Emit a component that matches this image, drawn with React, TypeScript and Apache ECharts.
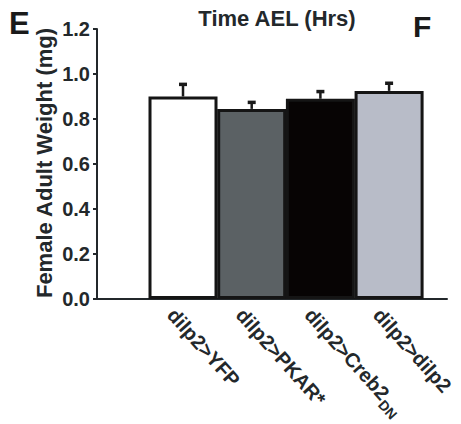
import React, { useEffect, useRef } from "react";
import * as echarts from "echarts";

const categories = ["dilp2>YFP", "dilp2>PKAR*", "dilp2>Creb2DN", "dilp2>dilp2"];
const means = [0.9, 0.845, 0.89, 0.925];
const errors = [0.055, 0.03, 0.033, 0.035];
const barColors = ["#ffffff", "#5b6164", "#070404", "#b8bcc8"];
const yTicks = [0, 0.2, 0.4, 0.6, 0.8, 1.0, 1.2];

const FONT = "'Liberation Sans', Arial, Helvetica, sans-serif";
const INK = "#23282b";
const LABEL_SHIFT = -0.15;

export default function App() {
  const ref = useRef<HTMLDivElement>(null);
  useEffect(() => {
    if (!ref.current) return;
    const chart = echarts.init(ref.current, null, { renderer: "svg" });
    const barData = means.map((v, i) => ({
      value: [i, v],
      itemStyle: { color: barColors[i], borderColor: "#151515", borderWidth: 3 },
    }));
    const errData = means.map((v, i) => [i, v, errors[i]]);
    chart.setOption({
      animation: false,
      backgroundColor: "#ffffff",
      grid: { left: 97, right: 14, top: 29, bottom: 125, containLabel: false, outerBoundsMode: "none" },
      xAxis: {
        type: "value",
        min: -1.252,
        max: 3.843,
        splitLine: { show: false },
        axisTick: { show: false },
        axisLine: { show: true, onZero: false, lineStyle: { color: INK, width: 2 } },
        axisLabel: {
          show: true,
          customValues: categories.map((_, i) => i + LABEL_SHIFT),
          rotate: -48,
          margin: 11,
          hideOverlap: false,
          color: INK,
          fontFamily: FONT,
          fontWeight: "bold",
          fontSize: 20,
          formatter: (v: number) => {
            const name = categories[Math.round(v - LABEL_SHIFT)] || "";
            if (name.endsWith("DN")) return "{n|" + name.slice(0, -2) + "}{s|DN}";
            return "{n|" + name + "}";
          },
          rich: {
            n: { fontFamily: FONT, fontWeight: "bold", fontSize: 20, color: INK, lineHeight: 24, verticalAlign: "bottom" },
            s: { fontFamily: FONT, fontWeight: "bold", fontSize: 14, color: INK, lineHeight: 24, verticalAlign: "bottom", padding: [0, 0, -4, 1] },
          },
        },
      },
      yAxis: {
        type: "value",
        min: 0,
        max: 1.2,
        interval: 0.2,
        splitLine: { show: false },
        axisLine: { show: true, onZero: false, lineStyle: { color: INK, width: 2 } },
        axisTick: { show: true, inside: false, length: 4, lineStyle: { color: INK, width: 2 } },
        axisLabel: {
          margin: 7,
          color: INK,
          fontFamily: FONT,
          fontWeight: "bold",
          fontSize: 20,
          formatter: (v: number) => {
            const t = yTicks.find((x) => Math.abs(x - v) < 1e-6);
            return (t !== undefined ? t : v).toFixed(1);
          },
        },
      },
      series: [
        {
          type: "bar",
          data: barData,
          barWidth: 69,
          z: 2,
        },
        {
          type: "custom",
          z: 3,
          data: errData,
          renderItem: (params: any, api: any) => {
            const x = api.value(0);
            const v = api.value(1);
            const e = api.value(2);
            const base = api.coord([x, v]);
            const top = api.coord([x, v + e]);
            return {
              type: "group",
              children: [
                {
                  type: "line",
                  shape: { x1: top[0], y1: base[1], x2: top[0], y2: top[1] },
                  style: { stroke: "#1a1a1a", lineWidth: 2.5 },
                },
                {
                  type: "rect",
                  shape: { x: top[0] - 4, y: top[1] - 1.5, width: 8, height: 3.5 },
                  style: { fill: "#1a1a1a" },
                },
              ],
            };
          },
        },
      ],
      graphic: [
        {
          type: "text",
          left: 9,
          top: 8,
          style: { text: "E", font: "bold 31px " + FONT, fill: "#1a1a1a" },
        },
        {
          type: "text",
          left: 413,
          top: 11,
          style: { text: "F", font: "bold 30px " + FONT, fill: "#1a1a1a" },
        },
        {
          type: "text",
          x: 277,
          y: 18,
          style: {
            text: "Time AEL (Hrs)",
            font: "bold 22px " + FONT,
            fill: INK,
            align: "center",
            verticalAlign: "middle",
          },
        },
        {
          type: "text",
          x: 44,
          y: 163,
          rotation: Math.PI / 2,
          style: {
            text: "Female Adult Weight (mg)",
            font: "bold 22px " + FONT,
            fill: INK,
            align: "center",
            verticalAlign: "middle",
          },
        },
      ],
    });
    return () => chart.dispose();
  }, []);
  return (
    <div
      ref={ref}
      style={{ position: "fixed", left: 0, top: 0, width: 461, height: 424, background: "#fff" }}
    />
  );
}
